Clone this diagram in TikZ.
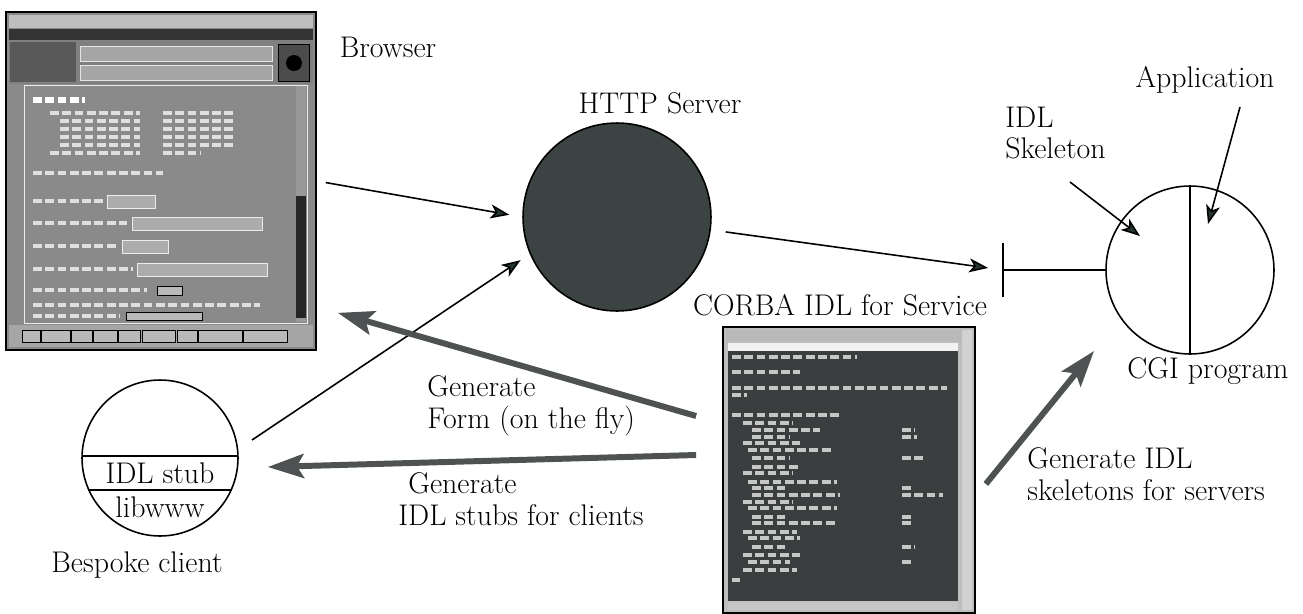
\documentclass[tikz,border=0pt]{standalone}
\usepackage{fontspec}
\usepackage{tikz}
\usetikzlibrary{arrows.meta,shapes,backgrounds}

\definecolor{srvfill}{RGB}{60,68,67}
\definecolor{tipfill}{RGB}{38,54,53}
\definecolor{genfill}{RGB}{78,82,82}
\definecolor{scrmid}{RGB}{138,138,138}
\definecolor{scrlight}{RGB}{190,190,190}
\definecolor{scrdark}{RGB}{58,62,62}

\begin{document}
\begin{tikzpicture}[x=0.02cm,y=-0.02cm,
		lbl/.style={font=\fontsize{17}{18}\selectfont,inner sep=0pt},
		ring/.style={circle,draw,line width=0.9pt,inner sep=0pt},
		screen/.style={draw,line width=1pt,inner sep=0pt},
		thinarrow/.style={line width=0.9pt,-{Stealth[length=0.38cm,width=0.28cm,inset=0.1cm,fill=tipfill]}},
		genarrow/.style={draw=genfill,line width=3.4pt,-{Stealth[length=0.72cm,width=0.48cm,inset=0.14cm]}},
		textrow/.style={line width=2pt,dash pattern=on 5pt off 2pt}]
	\useasboundingbox (0,0) rectangle (1303,613);

	% browser window
	\node[screen,fill=scrmid,minimum width=6.2cm,minimum height=6.76cm] (browser) at (161,181) {};
	\fill[scrlight] (9,15) rectangle (313,28);
	\fill[gray!40!black] (9,29) rectangle (313,40);
	\fill[gray] (9,40) rectangle (313,84);
	\fill[gray!70!black] (10,42) rectangle (76,82);
	\draw[white!80!gray,fill=gray!70] (80,46) rectangle (272,61);
	\draw[white!80!gray,fill=gray!70] (80,65) rectangle (272,80);
	\draw[fill=gray!60!black] (278,44) rectangle (309,81);
	\fill[black] (294,63) circle (0.16cm);
	\draw[white!85!gray,fill=scrmid] (24,85) rectangle (307,323);
	\fill[gray!80] (296,86) rectangle (306,322);
	\fill[black!85] (296,196) rectangle (306,318);
	\foreach \fy/\fa/\fb in {195/107/155,217/132/262,240/122/168,263/137/267}
		\draw[white!85!gray,fill=gray!65] (\fa,\fy) rectangle (\fb,\fy+13);
	\draw[fill=gray!55] (157,286) rectangle (182,295);
	\draw[fill=gray!55] (126,312) rectangle (202,320);
	\draw[textrow,white,line width=3pt] (33,100) -- (85,100);
	\foreach \ty/\ta/\tb in {113/50/140,121/60/140,129/60/140,137/60/140,145/60/140,153/50/140,
			113/163/233,121/163/233,129/163/233,137/163/233,145/163/233,153/163/200,
			173/33/163,201/33/103,223/33/127,246/33/118,269/33/133,290/33/147,305/33/260,316/33/120}
		\draw[textrow,white!75!gray] (\ta,\ty) -- (\tb,\ty);
	\fill[gray!70] (9,325) rectangle (313,347);
	\foreach \ba/\bb in {22/40,41/70,71/92,93/117,118/140,142/175,177/197,198/242,243/287}
		\draw[fill=gray!55] (\ba,330) rectangle (\bb,342);
	\node[lbl] (brlbl) at (388,47) {Browser};

	% CORBA IDL window
	\node[screen,fill=scrlight,minimum width=5.04cm,minimum height=5.72cm] (corba) at (849,470) {};
	\fill[gray!55] (726,330) rectangle (962,342);
	\fill[white!90!gray] (728,343) rectangle (958,351);
	\fill[scrdark] (728,351) rectangle (958,601);
	\fill[gray!45] (728,602) rectangle (958,610);
	\fill[gray!35] (962,330) rectangle (972,610);
	\foreach \ty/\ta/\tb in {357/732/857,372/732/800,388/732/947,395/732/747,415/732/840,423/743/793,
			430/752/820,437/752/790,443/743/800,450/748/833,458/752/790,467/752/800,473/743/793,
			482/748/837,488/752/787,495/752/840,502/743/793,508/748/837,517/752/787,523/752/837,
			532/743/797,538/748/800,547/752/787,555/743/800,562/748/790,570/743/797,580/732/740,
			430/902/915,437/902/917,458/902/923,488/902/912,495/902/943,517/902/913,523/902/913,
			547/902/915,562/902/912}
		\draw[textrow,gray!45] (\ta,\ty) -- (\tb,\ty);
	\node[lbl] (corbalbl) at (840,305) {CORBA IDL for Service};

	% HTTP server
	\node[ring,fill=srvfill,minimum size=3.76cm] (http) at (617,217) {};
	\node[lbl] (httplbl) at (660,103) {HTTP Server};

	% CGI program
	\node[ring,minimum size=3.36cm] (cgi) at (1190,270) {};
	\draw[line width=0.9pt] (cgi.north) -- (cgi.south);
	\coordinate (bar) at (1003,270);
	\draw[line width=0.9pt] (bar) -- (cgi.west);
	\draw[line width=1.1pt] ([yshift=0.54cm]bar) -- ([yshift=-0.54cm]bar);
	\node[lbl] (applbl) at (1205,80) {Application};
	\node[lbl,align=left,anchor=west] (skellbl) at (1005,133) {IDL\\Skeleton};
	\node[lbl] (cgilbl) at (1208,371) {CGI program};
	\coordinate (appfoot) at (1240,107);
	\coordinate (apptip) at (1208,224);
	\coordinate (skelfoot) at (1070,182);
	\coordinate (skeltip) at (1140,236);

	% bespoke client
	\node[ring,minimum size=3.12cm,path picture={
			\draw[line width=0.9pt] ([yshift=0.04cm]path picture bounding box.west) -- ([yshift=0.04cm]path picture bounding box.east);
			\draw[line width=0.9pt] ([yshift=-0.64cm]path picture bounding box.west) -- ([yshift=-0.64cm]path picture bounding box.east);}] (client) at (160,458) {};
	\node[lbl] (stub) at (160,473) {IDL stub};
	\node[lbl] (libwww) at (160,507) {libwww};
	\node[lbl] (clientlbl) at (137,565) {Bespoke client};
	\coordinate (clout) at (252,440);

	% connections
	\draw[thinarrow,shorten <=0.18cm,shorten >=0.26cm] (browser.east) -- (http.west);
	\draw[thinarrow,shorten <=0.3cm,shorten >=0.3cm] (http) -- (bar);
	\draw[thinarrow,shorten >=0.22cm] (clout) -- (http.203);
	\draw[thinarrow] (appfoot) -- (apptip);
	\draw[thinarrow] (skelfoot) -- (skeltip);

	% generated from the IDL
	\draw[genarrow] ([xshift=-0.52cm,yshift=1.08cm]corba.west) -- ([xshift=0.42cm,yshift=0.76cm]browser.south east);
	\draw[genarrow] ([xshift=-0.52cm,yshift=0.3cm]corba.west) -- ([xshift=0.58cm,yshift=-0.18cm]client.east);
	\draw[genarrow] ([xshift=0.2cm,yshift=-0.28cm]corba.east) -- ([xshift=-0.72cm,yshift=-0.42cm]cgi.south west);
	\node[lbl,align=left,anchor=west] (formlbl) at (427,406) {Generate\\Form (on the fly)};
	\node[lbl,align=left,anchor=west] (stublbl) at (398,499) {\hspace*{0.2cm}Generate\\IDL stubs for clients};
	\node[lbl,align=left,anchor=west] (skgenlbl) at (1027,474) {Generate IDL\\skeletons for servers};
\end{tikzpicture}
\end{document}
